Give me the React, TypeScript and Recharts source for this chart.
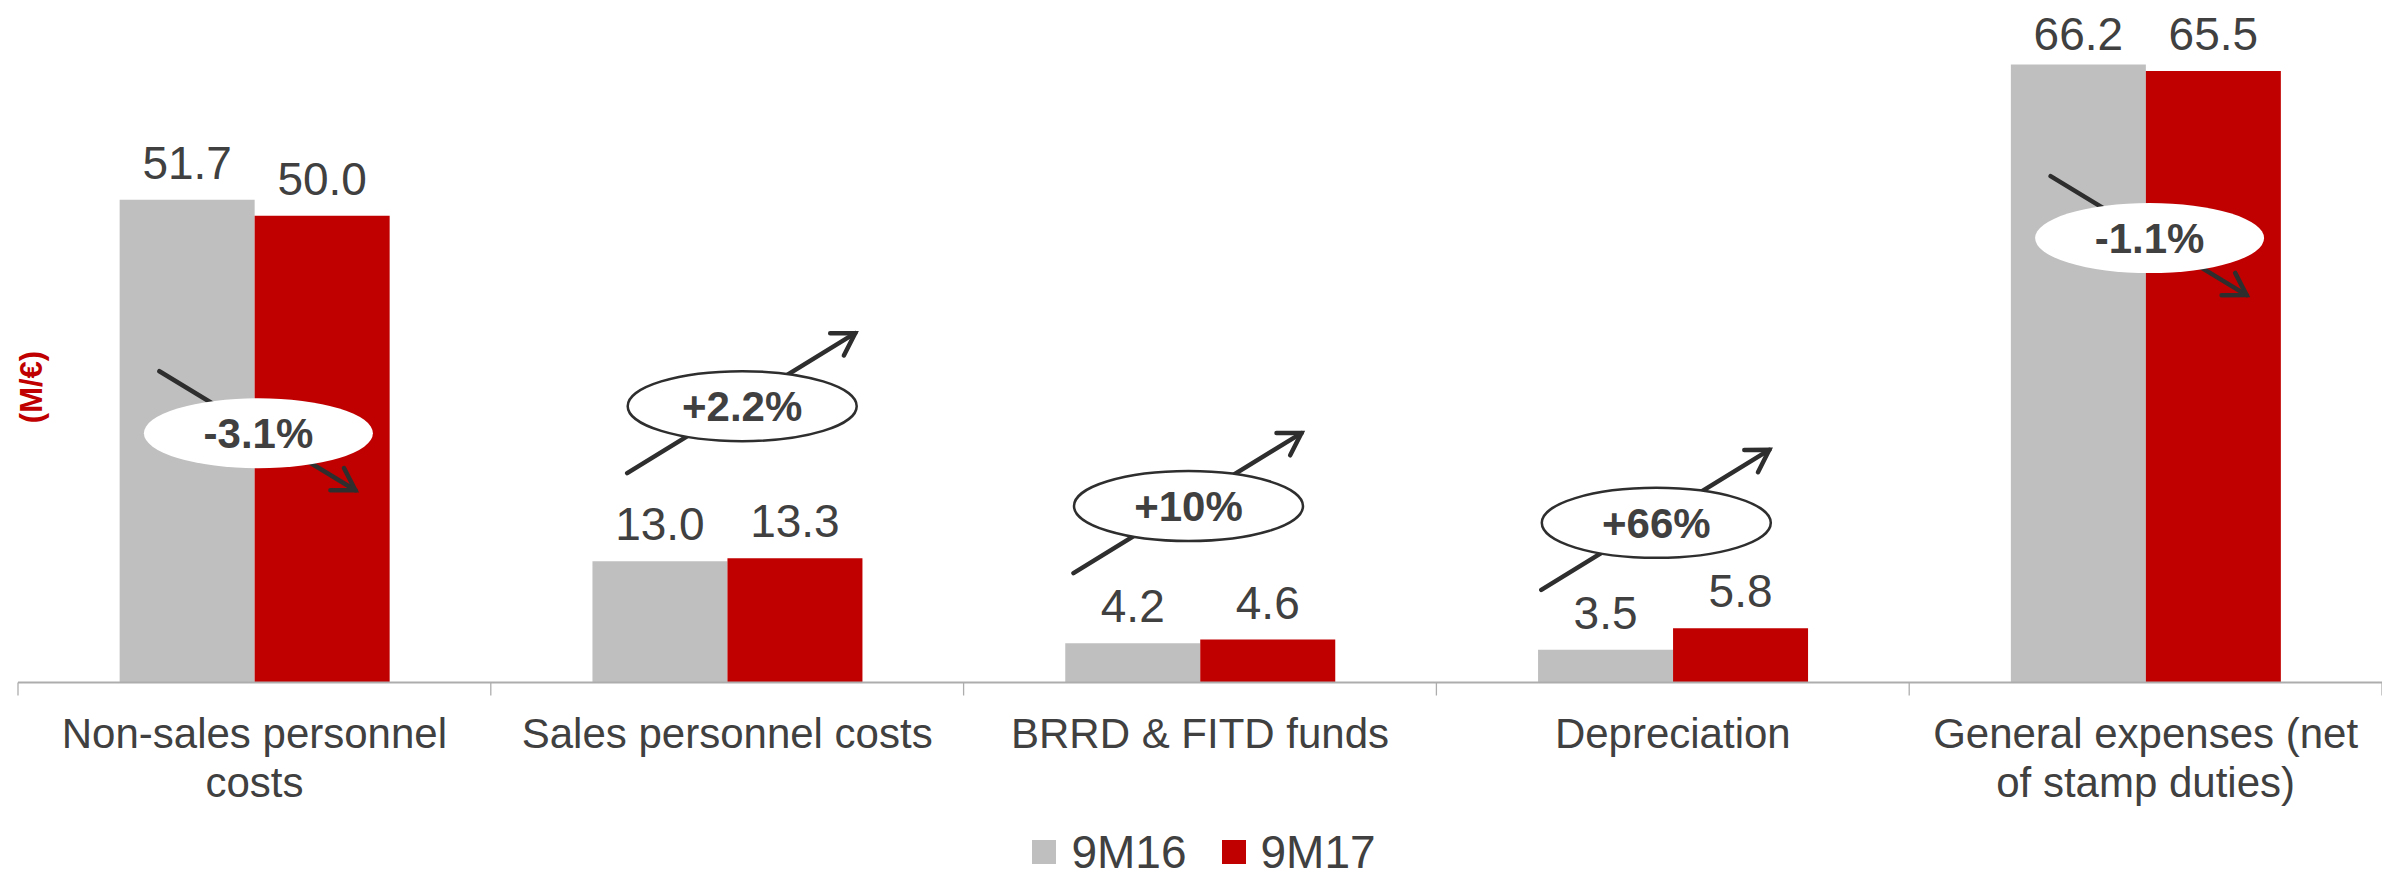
import React from "react";
import { Bar, BarChart, LabelList, Legend, ReferenceDot, XAxis, YAxis } from "recharts";

const categories = [
  "Non-sales personnel\ncosts",
  "Sales personnel costs",
  "BRRD & FITD funds",
  "Depreciation",
  "General expenses (net\nof stamp duties)",
];
const values9M16 = [51.7, 13.0, 4.2, 3.5, 66.2];
const values9M17 = [50.0, 13.3, 4.6, 5.8, 65.5];
const changes = ["-3.1%", "+2.2%", "+10%", "+66%", "-1.1%"];

// badge placement: level on the value axis, plus a small sideways nudge in px
const badgeLevels = [26.7, 29.6, 18.9, 17.1, 47.6];
const badgeNudge = [4, 15, -11.5, -16.5, 4];

const W = 2382;
const H = 875;
const MARGIN = { top: 29, right: 0, bottom: 0, left: 18 };
const BAND = (W - MARGIN.left - MARGIN.right) / categories.length;

const GREY = "#BFBFBF";
const RED = "#C00000";
const INK = "#404040";
const ARROW = "#2E2E2E";
const AXIS = "#ADADAD";
const FONT = "Arial, 'Liberation Sans', sans-serif";

const data = categories.map((name, i) => ({ name, a: values9M16[i], b: values9M17[i] }));

function ValueLabel(props: any) {
  const { x, y, width, value } = props;
  // labels that would run past the top are held at the plot edge
  const baseline = Math.max(Number(y) - 21, 50);
  return (
    <text x={Number(x) + Number(width) / 2} y={baseline} textAnchor="middle" fontSize={46} fill={INK} fontFamily={FONT}>
      {Number(value).toFixed(1)}
    </text>
  );
}

function CategoryTick(props: any) {
  const { x, y, payload, index } = props;
  const lines = String(payload.value).split("\n");
  const left = x - BAND / 2;
  return (
    <g>
      <line x1={left} x2={left} y1={y} y2={y + 13} stroke={AXIS} strokeWidth={1.3} />
      {index === categories.length - 1 && (
        <line x1={left + BAND} x2={left + BAND} y1={y} y2={y + 13} stroke={AXIS} strokeWidth={1.3} />
      )}
      <text x={x} y={y + 65.5} textAnchor="middle" fontSize={42} fill={INK} fontFamily={FONT}>
        {lines.map((l, k) => (
          <tspan key={k} x={x} dy={k === 0 ? 0 : 49}>{l}</tspan>
        ))}
      </text>
    </g>
  );
}

// change badge: arrow behind an ellipse with the percentage
const badge = (i: number) => (props: any) => {
  const cx = Number(props.cx) + badgeNudge[i];
  const cy = Number(props.cy);
  const up = !changes[i].startsWith("-");
  const from = up ? [cx - 115, cy + 67] : [cx - 99, cy - 62];
  const to = up ? [cx + 113, cy - 73] : [cx + 97, cy + 57];
  const ang = Math.atan2(to[1] - from[1], to[0] - from[0]);
  const head = 25;
  const spread = 0.55;
  const h1 = [to[0] - head * Math.cos(ang - spread), to[1] - head * Math.sin(ang - spread)];
  const h2 = [to[0] - head * Math.cos(ang + spread), to[1] - head * Math.sin(ang + spread)];
  return (
    <g>
      <line x1={from[0]} y1={from[1]} x2={to[0]} y2={to[1]} stroke={ARROW} strokeWidth={4.5} strokeLinecap="round" />
      <polyline points={`${h1[0]},${h1[1]} ${to[0]},${to[1]} ${h2[0]},${h2[1]}`} fill="none" stroke={ARROW}
        strokeWidth={4.5} strokeLinecap="round" />
      <ellipse cx={cx} cy={cy} rx={114.5} ry={35} fill="#fff" stroke={up ? ARROW : "none"} strokeWidth={2.5} />
      <text x={cx} y={cy + 15} textAnchor="middle" fontSize={42} fontWeight="bold" fill={INK} fontFamily={FONT}>
        {changes[i]}
      </text>
    </g>
  );
};

function LegendRow(props: any) {
  const items = props.payload || [];
  return (
    <div style={{
      height: 40, display: "flex", justifyContent: "center", alignItems: "flex-start", paddingLeft: 26,
      fontFamily: FONT, fontSize: 46, color: INK, lineHeight: "34px",
    }}>
      {items.map((it: any, i: number) => (
        <span key={it.value} style={{ display: "flex", alignItems: "center", marginLeft: i ? 35 : 0 }}>
          <span style={{ width: 24, height: 24, background: it.color, marginRight: 15 }} />
          {it.value}
        </span>
      ))}
    </div>
  );
}

export default function App() {
  return (
    <div style={{ position: "absolute", left: 0, top: 0, width: W, height: H, background: "#fff" }}>
      <BarChart width={W} height={H} data={data} margin={MARGIN} barGap={0} barCategoryGap="21.5%">
        <XAxis dataKey="name" interval={0} height={152.5} tickSize={0} tickMargin={0} tickLine={false}
          axisLine={{ stroke: AXIS, strokeWidth: 2 }} tick={<CategoryTick />} />
        <YAxis domain={[0, 70]} hide />
        <Legend verticalAlign="bottom" height={40} content={<LegendRow />} wrapperStyle={{ left: 0, width: W }} />
        <Bar dataKey="a" name="9M16" fill={GREY} isAnimationActive={false}>
          <LabelList dataKey="a" content={<ValueLabel />} />
        </Bar>
        <Bar dataKey="b" name="9M17" fill={RED} isAnimationActive={false}>
          <LabelList dataKey="b" content={<ValueLabel />} />
        </Bar>
        {categories.map((c, i) => (
          <ReferenceDot key={c} x={c} y={badgeLevels[i]} r={0} ifOverflow="visible" shape={badge(i)} />
        ))}
      </BarChart>
      {/* unit caption, turned to run up the left edge */}
      <div style={{
        position: "absolute", left: 31, top: 387, transform: "translate(-50%, -50%) rotate(-90deg)",
        fontFamily: FONT, fontSize: 31, fontWeight: "bold", color: RED, whiteSpace: "nowrap", lineHeight: 1,
      }}>
        (M/€)
      </div>
    </div>
  );
}
